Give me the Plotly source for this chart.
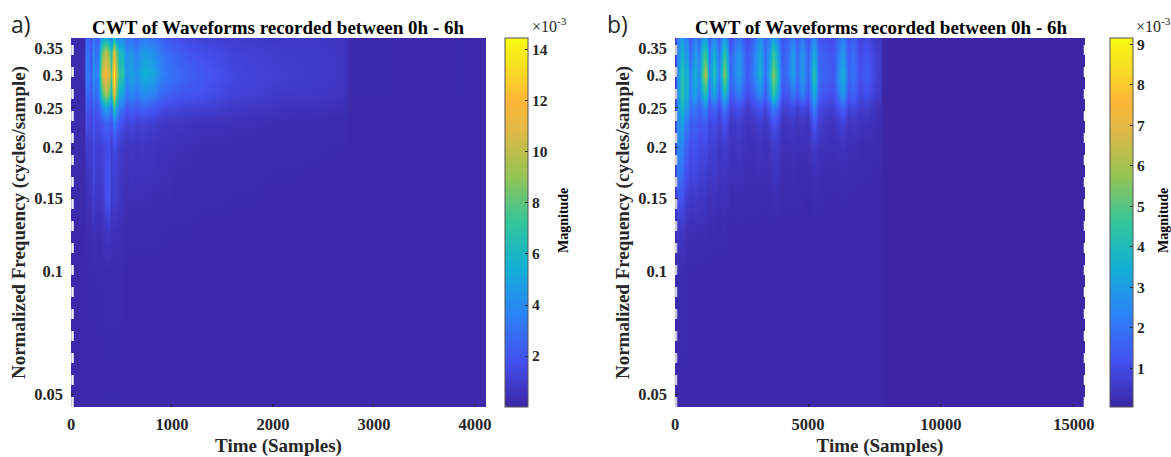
import plotly.graph_objects as go

# frequency rows, listed from top of the picture to bottom
freqs = [0.37, 0.34, 0.30, 0.27, 0.25, 0.23, 0.20, 0.17, 0.15, 0.125, 0.10, 0.046]

# Panel a: sample positions and magnitude (x 1e-3) per column
a_times = [0, 125, 150, 175, 195, 215, 240, 270, 310, 345, 375, 395, 425, 450, 480, 510, 540, 600, 640, 700,
           760, 820, 880, 950, 1050, 1150, 1300, 1450, 1600, 1800, 2000, 2200, 2400, 2600, 2700, 2760, 4110]
a_columns = [
    [.2, .2, .2, .2, .2, .2, .2, .2, .2, .1, .1, .1],
    [.2, .2, .2, .2, .2, .2, .2, .2, .2, .1, .1, .1],
    [2.6, 3.2, 3.6, 2.8, 2.2, 1.8, 1.0, .6, .4, .2, .1, .1],
    [2.4, 2.8, 3.2, 2.6, 2.0, 1.5, .9, .7, .5, .3, .15, .1],
    [1.6, 1.9, 2.2, 1.9, 1.5, 1.2, .9, .8, .6, .3, .15, .1],
    [3.4, 4.2, 4.6, 3.6, 2.6, 2.0, 1.6, 1.6, 1.1, .5, .2, .1],
    [2.4, 3.0, 3.4, 2.8, 2.0, 1.5, 1.2, 1.0, .8, .4, .2, .1],
    [2.2, 3.0, 3.8, 3.0, 2.2, 1.6, 1.1, .9, .7, .3, .15, .1],
    [5.0, 8.5, 10.5, 7.5, 4.0, 2.0, 1.2, .9, .8, .4, .2, .1],
    [5.6, 10.0, 12.0, 9.5, 5.0, 2.4, 1.5, 1.9, 1.7, .7, .2, .1],
    [4.6, 8.5, 10.5, 8.0, 4.2, 2.2, 1.6, 2.0, 1.9, .8, .2, .1],
    [3.6, 6.5, 8.0, 6.0, 3.0, 1.8, 1.1, 1.0, .9, .5, .2, .1],
    [6.0, 11.5, 14.4, 12.0, 7.0, 3.4, 1.6, 1.2, 1.0, .5, .2, .1],
    [4.5, 8.5, 10.0, 8.0, 5.0, 2.8, 1.4, 1.1, .9, .5, .2, .1],
    [3.8, 6.0, 7.0, 5.5, 3.4, 2.0, 1.0, .8, .7, .4, .2, .1],
    [4.0, 6.0, 6.8, 5.0, 3.0, 1.6, .8, .6, .5, .3, .15, .1],
    [2.8, 4.0, 4.2, 3.2, 2.0, 1.1, .6, .5, .4, .2, .1, .1],
    [3.0, 4.5, 5.0, 4.0, 2.5, 1.5, .8, .6, .4, .2, .1, .1],
    [2.4, 3.6, 4.0, 3.2, 2.0, 1.1, .6, .5, .4, .2, .1, .1],
    [3.2, 4.6, 5.4, 4.0, 2.4, 1.2, .7, .5, .4, .2, .1, .1],
    [3.0, 4.6, 5.4, 4.0, 2.2, 1.1, .6, .5, .4, .2, .1, .1],
    [3.0, 4.2, 5.0, 3.6, 2.0, 1.0, .6, .5, .3, .2, .1, .1],
    [2.6, 3.4, 3.8, 2.8, 1.6, .8, .5, .4, .3, .2, .1, .1],
    [2.0, 2.8, 3.2, 2.4, 1.4, .7, .5, .4, .3, .15, .1, .1],
    [1.8, 2.4, 2.8, 2.2, 1.3, .7, .4, .3, .2, .15, .1, .1],
    [1.4, 2.0, 2.4, 2.0, 1.2, .6, .4, .3, .2, .15, .1, .1],
    [1.2, 1.7, 2.1, 1.8, 1.1, .5, .3, .3, .2, .1, .1, .1],
    [1.1, 1.5, 1.8, 1.5, 1.0, .5, .3, .25, .2, .1, .1, .1],
    [1.0, 1.2, 1.4, 1.2, .8, .4, .3, .2, .15, .1, .1, .1],
    [.9, 1.1, 1.2, 1.1, .7, .4, .25, .2, .15, .1, .1, .1],
    [.8, 1.0, 1.1, .9, .6, .3, .2, .15, .1, .1, .1, .1],
    [.8, .9, 1.0, .8, .5, .3, .2, .15, .1, .1, .1, .1],
    [.8, .9, .9, .8, .5, .3, .2, .1, .1, .1, .1, .1],
    [.7, .8, .8, .7, .4, .2, .15, .1, .1, .1, .1, .1],
    [.6, .7, .7, .6, .35, .2, .15, .1, .1, .1, .1, .1],
    [.15, .15, .15, .15, .1, .1, .1, .1, .1, .1, .1, .1],
    [.1, .1, .1, .1, .1, .1, .1, .1, .1, .1, .1, .1],
]

# Panel b
b_times = [0, 75, 263, 375, 450, 564, 752, 902, 1015, 1128, 1203, 1278, 1466, 1654, 1842, 1955, 2068, 2218, 2406,
           2707, 2932, 3195, 3383, 3534, 3684, 3835, 4023, 4248, 4436, 4586, 4774, 5000, 5226, 5414, 5639, 5940,
           6316, 6504, 6692, 6955, 7218, 7481, 7707, 7820, 15414]
b_columns = [
    [.6, .6, .6, .6, .6, .6, .6, .5, .4, .2, .1, .1],
    [2.0, 2.2, 2.4, 2.4, 2.4, 2.5, 2.5, 2.0, 1.2, .5, .2, .1],
    [3.2, 3.8, 4.4, 4.6, 4.0, 3.2, 2.4, 1.8, 1.2, .5, .2, .1],
    [2.2, 2.6, 3.2, 3.2, 2.8, 2.2, 1.6, 1.2, .8, .4, .2, .1],
    [2.6, 3.0, 3.8, 3.8, 3.0, 2.2, 1.6, 1.1, .7, .3, .15, .1],
    [1.2, 1.6, 2.2, 2.2, 1.8, 1.4, 1.1, .8, .5, .25, .1, .1],
    [2.4, 3.0, 3.6, 3.2, 2.2, 1.6, 1.3, .9, .6, .3, .15, .1],
    [1.6, 2.2, 2.6, 2.2, 1.6, 1.2, 1.0, .7, .5, .25, .1, .1],
    [2.8, 3.8, 4.6, 3.4, 2.0, 1.4, 1.0, .7, .5, .25, .1, .1],
    [3.0, 4.6, 6.0, 4.2, 2.4, 1.5, 1.0, .7, .5, .25, .1, .1],
    [2.6, 4.0, 5.2, 3.6, 2.0, 1.3, .9, .6, .4, .2, .1, .1],
    [1.4, 2.0, 2.4, 1.8, 1.2, .9, .7, .5, .35, .2, .1, .1],
    [2.6, 3.6, 4.2, 3.4, 1.8, 1.1, .8, .6, .4, .2, .1, .1],
    [1.4, 2.0, 2.2, 1.6, 1.0, .7, .5, .4, .3, .15, .1, .1],
    [3.0, 4.4, 5.6, 4.0, 2.2, 1.2, .7, .5, .35, .2, .1, .1],
    [2.4, 3.4, 4.2, 3.0, 1.6, .9, .6, .4, .3, .15, .1, .1],
    [1.0, 1.4, 1.6, 1.2, .8, .5, .4, .3, .2, .1, .1, .1],
    [1.6, 2.2, 2.4, 1.8, 1.0, .6, .4, .3, .2, .1, .1, .1],
    [2.0, 2.8, 3.0, 2.2, 1.2, .7, .5, .35, .25, .1, .1, .1],
    [1.0, 1.2, 1.3, 1.0, .6, .4, .3, .25, .2, .1, .1, .1],
    [1.6, 2.0, 2.2, 1.6, .9, .5, .3, .25, .2, .1, .1, .1],
    [2.8, 3.4, 3.6, 2.6, 1.3, .7, .4, .3, .2, .1, .1, .1],
    [1.6, 1.8, 1.8, 1.4, .8, .5, .3, .25, .15, .1, .1, .1],
    [2.2, 2.8, 3.2, 2.6, 1.4, .7, .4, .3, .2, .1, .1, .1],
    [3.2, 4.6, 5.6, 4.6, 2.4, 1.2, .6, .4, .25, .1, .1, .1],
    [2.4, 3.4, 4.2, 3.4, 1.8, 1.0, .6, .4, .25, .1, .1, .1],
    [1.2, 1.4, 1.5, 1.2, .7, .4, .3, .2, .15, .1, .1, .1],
    [1.6, 1.9, 2.0, 1.4, .8, .5, .3, .2, .15, .1, .1, .1],
    [2.2, 3.0, 3.2, 2.2, 1.0, .6, .35, .25, .15, .1, .1, .1],
    [1.4, 1.7, 1.8, 1.4, .7, .4, .3, .2, .15, .1, .1, .1],
    [2.2, 2.8, 3.0, 2.4, 1.0, .5, .3, .2, .15, .1, .1, .1],
    [1.2, 1.5, 1.6, 1.2, .7, .4, .3, .2, .1, .1, .1, .1],
    [2.6, 3.4, 4.4, 3.6, 2.4, 1.4, .6, .3, .2, .1, .1, .1],
    [1.2, 1.5, 1.7, 1.5, 1.0, .7, .4, .25, .15, .1, .1, .1],
    [1.2, 1.5, 1.6, 1.3, .8, .5, .35, .2, .15, .1, .1, .1],
    [1.0, 1.2, 1.3, 1.1, .7, .4, .3, .2, .1, .1, .1, .1],
    [2.4, 3.0, 3.6, 3.0, 1.6, .8, .4, .25, .15, .1, .1, .1],
    [1.2, 1.4, 1.6, 1.3, .8, .4, .3, .2, .1, .1, .1, .1],
    [1.6, 1.9, 2.0, 1.7, .9, .5, .3, .2, .1, .1, .1, .1],
    [.8, 1.0, 1.1, .9, .6, .4, .2, .15, .1, .1, .1, .1],
    [1.0, 1.3, 1.5, 1.2, .7, .4, .2, .15, .1, .1, .1, .1],
    [.6, .8, .9, .7, .4, .3, .2, .1, .1, .1, .1, .1],
    [.5, .6, .6, .5, .3, .2, .15, .1, .1, .1, .1, .1],
    [.05, .05, .05, .05, .05, .05, .05, .05, .05, .05, .05, .05],
    [.05, .05, .05, .05, .05, .05, .05, .05, .05, .05, .05, .05],
]

y_ticks = [0.05, 0.1, 0.15, 0.2, 0.25, 0.3, 0.35]
a_x_ticks = [0, 1000, 2000, 3000, 4000]
b_x_ticks = [0, 5000, 10000, 15000]
a_bar_ticks = [2, 4, 6, 8, 10, 12, 14]
b_bar_ticks = [1, 2, 3, 4, 5, 6, 7, 8, 9]
title_text = "CWT of Waveforms recorded between 0h - 6h"

W, H = 1171, 457
SERIF = "Liberation Serif"
DARK = "#262626"
PARULA = [
    [0.0, "rgb(60,38,165)"], [0.125, "rgb(68,80,240)"], [0.25, "rgb(45,130,247)"],
    [0.375, "rgb(18,175,214)"], [0.5, "rgb(50,198,155)"], [0.625, "rgb(150,195,85)"],
    [0.75, "rgb(225,185,70)"], [0.83, "rgb(253,182,55)"], [0.92, "rgb(246,222,35)"],
    [1.0, "rgb(249,251,21)"],
]

def rows(columns):
    # columns run top to bottom; the heatmap wants rows with ascending frequency
    return [list(r) for r in zip(*columns)][::-1]

def bar(left, ticks):
    return dict(
        x=left / W, xanchor="left", y=1 - 38 / H, yanchor="top", len=369 / H, lenmode="fraction",
        thickness=23, thicknessmode="pixels", outlinecolor="#555", outlinewidth=1, xpad=0, ypad=0,
        tickvals=ticks, ticktext=[str(t) for t in ticks], ticks="inside", ticklen=3, tickcolor=DARK,
        ticklabelposition="outside",
        tickfont=dict(family=SERIF, size=15.5, color=DARK, weight="bold"),
    )

fig = go.Figure()
fig.add_trace(go.Heatmap(x=a_times, y=freqs[::-1], z=rows(a_columns), xaxis="x", yaxis="y",
                         colorscale=PARULA, zmin=0, zmax=14.47, zsmooth="best", colorbar=bar(505, a_bar_ticks)))
fig.add_trace(go.Heatmap(x=b_times, y=freqs[::-1], z=rows(b_columns), xaxis="x2", yaxis="y2",
                         colorscale=PARULA, zmin=0.04, zmax=9.15, zsmooth="best", colorbar=bar(1110, b_bar_ticks)))

tick = dict(family=SERIF, size=16.5, color=DARK, weight="bold")
axtitle = dict(family=SERIF, size=19, color=DARK, weight="bold")
def xaxis(l, r, rng, ticks, anchor):
    return dict(domain=[l / W, r / W], range=rng, tickvals=ticks, ticktext=[str(t) for t in ticks],
                ticks="inside", ticklen=3, tickcolor=DARK, ticklabelstandoff=5,
                tickfont=tick, anchor=anchor, showgrid=False, zeroline=False, showline=False,
                title=dict(text="Time (Samples)", font=axtitle, standoff=6))
def yaxis(anchor):
    return dict(domain=[1 - 407 / H, 1 - 38 / H], type="log", range=[-1.3325, -0.4318], tickvals=y_ticks,
                ticktext=[str(v) for v in y_ticks], ticks="inside", ticklen=3, tickcolor=DARK, tickfont=tick,
                ticklabelstandoff=7, anchor=anchor, showgrid=False, zeroline=False, showline=False,
                title=dict(text="Normalized Frequency (cycles/sample)", font=axtitle, standoff=3))

notes = [
    dict(text=title_text, x=278, y=27, size=19, bold=True, font=SERIF, angle=0),
    dict(text=title_text, x=881, y=27, size=19, bold=True, font=SERIF, angle=0),
    dict(text="a)", x=20.5, y=24, size=23, bold=False, font="Open Sans", angle=0),
    dict(text="b)", x=617, y=24, size=23, bold=False, font="Open Sans", angle=0),
    dict(text="×10<sup>-3</sup>", x=549, y=25, size=16, bold=False, font=SERIF, angle=0),
    dict(text="×10<sup>-3</sup>", x=1153, y=25, size=16, bold=False, font=SERIF, angle=0),
    dict(text="Magnitude", x=563, y=221, size=14, bold=True, font=SERIF, angle=-90),
    dict(text="Magnitude", x=1163, y=221, size=14, bold=True, font=SERIF, angle=-90),
]
annotations = [
    dict(text=n["text"], x=n["x"] / W, y=1 - n["y"] / H, xref="paper", yref="paper", showarrow=False,
         xanchor="center", yanchor="middle", textangle=n["angle"],
         font=dict(family=n["font"], size=n["size"], color="black" if n["bold"] else DARK,
                   weight="bold" if n["bold"] else "normal"))
    for n in notes
]

def edge(px, color):
    return dict(type="line", xref="paper", yref="paper", x0=px / W, x1=px / W, y0=1 - 407 / H, y1=1 - 38 / H,
                line=dict(color=color, width=2.5, dash="10px,12px"))

fig.update_layout(
    width=W, height=H, margin=dict(l=0, r=0, t=0, b=0, autoexpand=False), paper_bgcolor="white", plot_bgcolor="white",
    xaxis=xaxis(71, 486, [0, 4110], a_x_ticks, "y"),
    yaxis=yaxis("x"),
    xaxis2=xaxis(675, 1085, [0, 15414], b_x_ticks, "y2"),
    yaxis2=yaxis("x2"),
    annotations=annotations,
    shapes=[edge(72.5, "#f2f2f2"), edge(676, "#c8c8d8"), edge(1085, "#ffffff")],
)
fig.write_html("out.html", config=dict(displayModeBar=False), post_script="document.body.style.margin='0';")
